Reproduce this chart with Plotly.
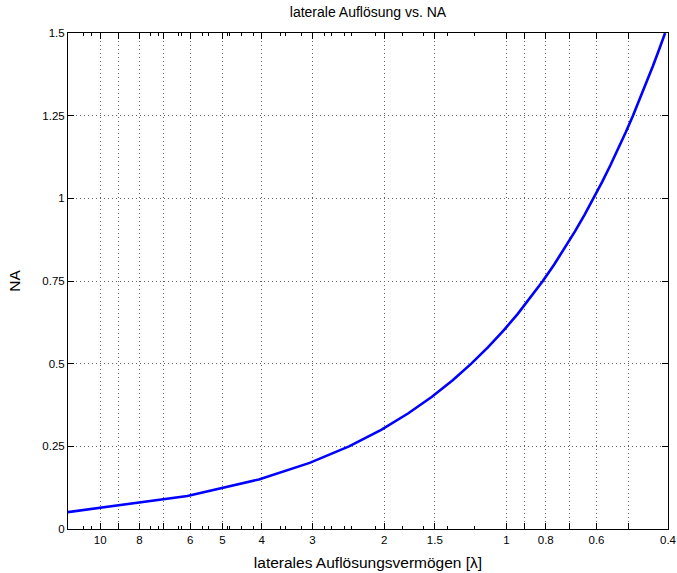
import plotly.graph_objects as go

# Data: numerical aperture and corresponding lateral resolution (in wavelengths)
na_values = [0.05, 0.10, 0.15, 0.20, 0.25, 0.30, 0.35, 0.40, 0.45, 0.50,
             0.55, 0.60, 0.65, 0.70, 0.75, 0.80, 0.85, 0.90, 0.95, 1.00,
             1.05, 1.10, 1.15, 1.20, 1.25, 1.30, 1.35, 1.40, 1.45, 1.50]
resolution = [12.2, 6.1, 4.0667, 3.05, 2.44, 2.0333, 1.7429, 1.525, 1.3556, 1.22,
              1.1091, 1.0167, 0.9385, 0.8714, 0.8133, 0.7625, 0.7176, 0.6778, 0.6421, 0.61,
              0.581, 0.5545, 0.5304, 0.5083, 0.488, 0.4692, 0.4519, 0.4357, 0.4207, 0.4067]

x_tickvals = [10, 9, 8, 7, 6, 5, 4, 3, 2, 1.5, 1, 0.9, 0.8, 0.7, 0.6, 0.5, 0.4]
x_ticktext = ["10", "", "8", "", "6", "5", "4", "3", "2", "1.5", "1", "", "0.8", "", "0.6", "", "0.4"]
x_minor_vals = [11, 10.5, 7.5, 7.2, 6.4, 6.3, 5.6, 5.4, 4.85, 4.8, 4.5, 4.2,
                3.6, 3.5, 3.2, 2.8, 2.7, 2.5, 2.4, 2.1, 1.8, 1.6, 1.4, 1.2]
y_tickvals = [0, 0.25, 0.5, 0.75, 1, 1.25, 1.5]
y_ticktext = ["0", "0.25", "0.5", "0.75", "1", "1.25", "1.5"]

FONT = "Liberation Sans, Arial, Helvetica, sans-serif"

fig = go.Figure()
fig.add_trace(go.Scatter(x=resolution, y=na_values, mode="lines",
                         line=dict(color="#0000ff", width=2.6), showlegend=False))

axis_common = dict(
    showline=True, linecolor="black", linewidth=1, mirror="allticks",
    ticks="inside", tickcolor="black", tickwidth=1, ticklen=6,
    showgrid=True, gridcolor="#666666", gridwidth=1, griddash="1px,3px",
    zeroline=False, tickfont=dict(family=FONT, size=11.5, color="black"),
)

fig.update_xaxes(
    type="log", range=[1.0792, -0.3979],
    tickmode="array", tickvals=x_tickvals, ticktext=x_ticktext,
    minor=dict(tickmode="array", tickvals=x_minor_vals, ticks="inside",
               ticklen=3, tickcolor="black", showgrid=False),
    title=dict(text="laterales Auflösungsvermögen [λ]", standoff=12,
               font=dict(family=FONT, size=15.5, color="black")),
    **axis_common,
)
fig.update_yaxes(
    range=[0, 1.5], tickmode="array", tickvals=y_tickvals, ticktext=y_ticktext,
    title=dict(text="NA", standoff=17, font=dict(family=FONT, size=15.5, color="black")),
    **axis_common,
)

fig.update_layout(
    width=677, height=573,
    margin=dict(l=68, r=9, t=33, b=44, autoexpand=False),
    paper_bgcolor="white", plot_bgcolor="white",
    title=dict(text="laterale Auflösung vs. NA", x=0.5, xref="paper", xanchor="center",
               y=1 - 12 / 573, yref="container", yanchor="middle",
               font=dict(family=FONT, size=14, color="black")),
    font=dict(family=FONT, color="black"),
)

fig.write_html("out.html")
